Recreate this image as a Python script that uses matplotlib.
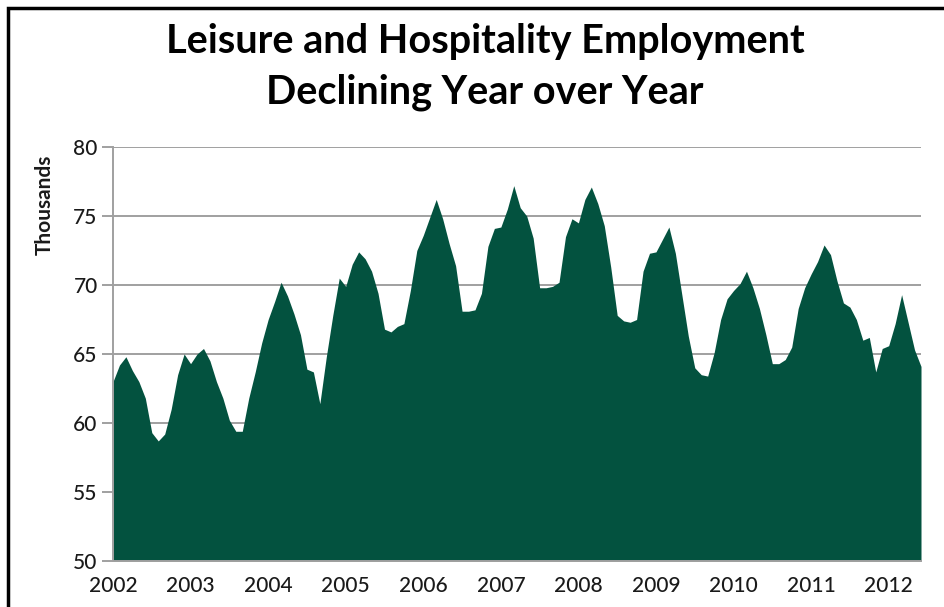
import matplotlib
import matplotlib.pyplot as plt
import numpy as np
from matplotlib.patches import Rectangle

matplotlib.use("Agg")

_FILL = "#03523F"
_GRID = "#A0A0A0"
_TEXT = "#1A1A1A"
_FONT = ["Lato", "DejaVu Sans"]

# Monthly employment (thousands), Jan 2002 - Jun 2012
employment = [
    # 2002
    63.0, 64.2, 64.8, 63.8, 63.0, 61.8, 59.3, 58.7, 59.2, 61.0, 63.5, 65.0,
    # 2003
    64.3, 65.0, 65.4, 64.5, 63.0, 61.8, 60.2, 59.4, 59.4, 61.8, 63.7, 65.8,
    # 2004
    67.5, 68.8, 70.2, 69.2, 67.9, 66.4, 63.9, 63.7, 61.4, 64.8, 67.8, 70.5,
    # 2005
    69.9, 71.5, 72.4, 71.9, 71.0, 69.4, 66.8, 66.6, 67.0, 67.2, 69.6, 72.5,
    # 2006
    73.6, 74.9, 76.2, 74.8, 73.0, 71.4, 68.1, 68.1, 68.2, 69.4, 72.8, 74.1,
    # 2007
    74.2, 75.5, 77.2, 75.6, 75.0, 73.4, 69.8, 69.8, 69.9, 70.2, 73.5, 74.8,
    # 2008
    74.5, 76.2, 77.1, 75.9, 74.3, 71.3, 67.8, 67.4, 67.3, 67.5, 71.0, 72.3,
    # 2009
    72.4, 73.3, 74.2, 72.3, 69.3, 66.3, 64.0, 63.5, 63.4, 65.1, 67.5, 69.0,
    # 2010
    69.6, 70.1, 71.0, 69.8, 68.3, 66.4, 64.3, 64.3, 64.6, 65.5, 68.3, 69.8,
    # 2011
    70.8, 71.7, 72.9, 72.2, 70.3, 68.7, 68.4, 67.5, 66.0, 66.2, 63.7, 65.4,
    # 2012
    65.6, 67.2, 69.3, 67.3, 65.3, 64.1,
]
years = list(range(2002, 2013))
y_ticks = [50, 55, 60, 65, 70, 75, 80]

fig = plt.figure(figsize=(9.45, 6.07), dpi=100)
ax = fig.add_axes([113 / 945, 46 / 607, 808 / 945, 414 / 607])

months = np.arange(len(employment))
ax.fill_between(months, employment, 50, color=_FILL, linewidth=0, zorder=2)

ax.set_xlim(0, len(employment) - 1)
ax.set_ylim(50, 80)
ax.set_yticks(y_ticks)
ax.set_yticklabels([str(v) for v in y_ticks])
ax.set_xticks([12 * k for k in range(len(years))])
ax.set_xticklabels([str(y) for y in years])

ax.grid(axis="y", color=_GRID, linewidth=1.4, zorder=1)
ax.set_axisbelow(True)
for side in ("top", "right"):
    ax.spines[side].set_visible(False)
for side in ("left", "bottom"):
    ax.spines[side].set_color(_GRID)
    ax.spines[side].set_linewidth(1.4)

ax.tick_params(axis="y", length=8, width=1.4, color=_GRID, pad=3,
               labelsize=15, labelcolor=_TEXT)
ax.tick_params(axis="x", length=0, pad=11, labelsize=15, labelcolor=_TEXT)
for lbl in ax.get_xticklabels() + ax.get_yticklabels():
    lbl.set_family(_FONT)
    lbl.set_fontweight("medium")

fig.text(45 / 945, 1 - 205 / 607, "Thousands", rotation=90, ha="center",
         va="center", fontsize=15, fontweight="bold", color=_TEXT,
         family=_FONT)

for text, y_px in (("Leisure and Hospitality Employment", 42),
                   ("Declining Year over Year", 92)):
    fig.text(485 / 945, 1 - y_px / 607, text, ha="center", va="center",
             fontsize=28.5, fontweight="bold", color="black", family=_FONT)

# outer frame, open at the bottom and right like a cropped chart box
fig.add_artist(Rectangle((8 / 945, -0.05), 1.0, 1 - 8 / 607 + 0.05,
                         transform=fig.transFigure, fill=False,
                         edgecolor="black", linewidth=2.5))

fig.savefig("out.png", dpi=100)
plt.close(fig)
